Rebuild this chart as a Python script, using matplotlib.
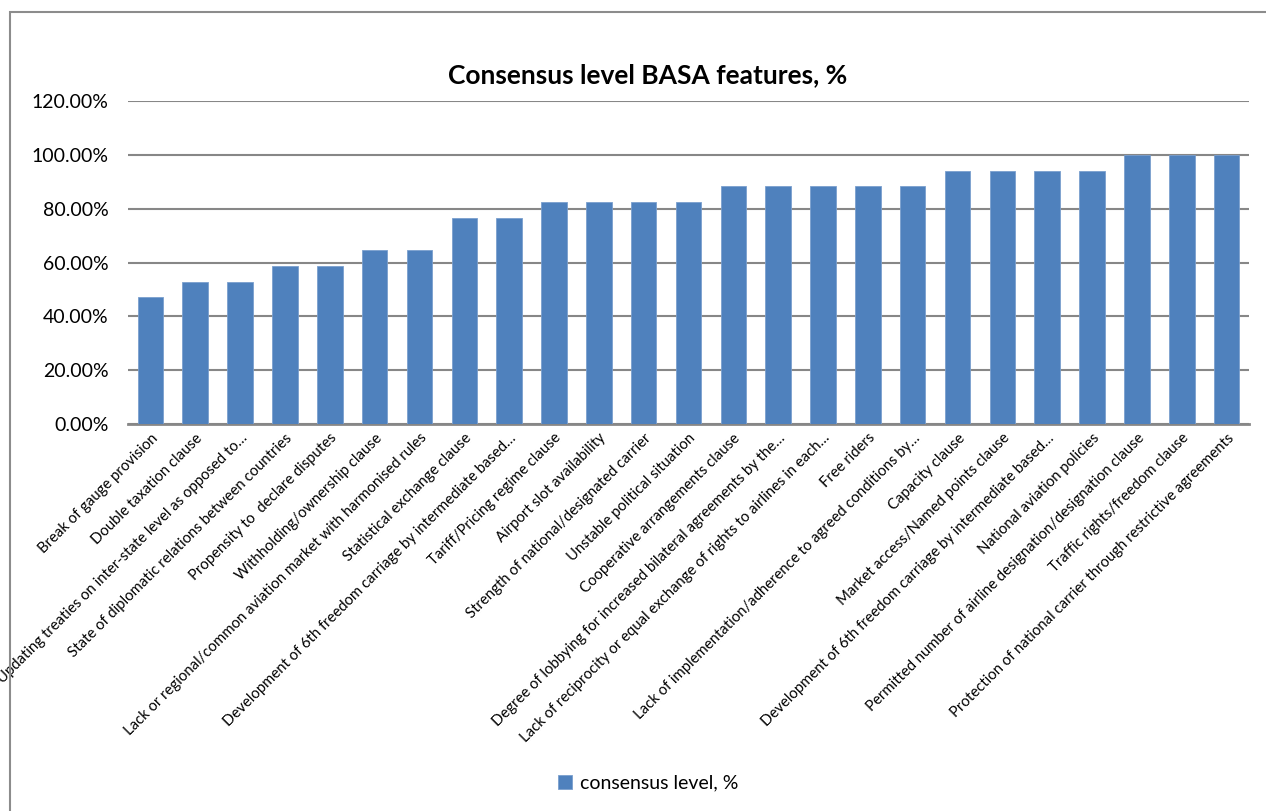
import matplotlib
matplotlib.use("Agg")
import matplotlib.pyplot as plt
from matplotlib.ticker import FuncFormatter, MultipleLocator
from matplotlib.patches import Rectangle

# Features ordered by consensus level (share of respondents)
features = [
    "Break of gauge provision",
    "Double taxation clause",
    "Updating treaties on inter-state level as opposed to\u2026",
    "State of diplomatic relations between countries",
    "Propensity to  declare disputes",
    "Withholding/ownership clause",
    "Lack or regional/common aviation market with harmonised rules",
    "Statistical exchange clause",
    "Development of 6th freedom carriage by intermediate based\u2026",
    "Tariff/Pricing regime clause",
    "Airport slot availability",
    "Strength of national/designated carrier",
    "Unstable political situation",
    "Cooperative arrangements clause",
    "Degree of lobbying for increased bilateral agreements by the\u2026",
    "Lack of reciprocity or equal exchange of rights to airlines in each\u2026",
    "Free riders",
    "Lack of implementation/adherence to agreed conditions by\u2026",
    "Capacity clause",
    "Market access/Named points clause",
    "Development of 6th freedom carriage by intermediate based\u2026",
    "National aviation policies",
    "Permitted number of airline designation/designation clause",
    "Traffic rights/freedom clause",
    "Protection of national carrier through restrictive agreements",
]
consensus = [
    0.4706, 0.5294, 0.5294, 0.5882, 0.5882, 0.6471, 0.6471, 0.7647, 0.7647,
    0.8235, 0.8235, 0.8235, 0.8235, 0.8824, 0.8824, 0.8824, 0.8824, 0.8824,
    0.9412, 0.9412, 0.9412, 0.9412, 1.0, 1.0, 1.0,
]
series_name = "consensus level, %"
chart_title = "Consensus level BASA features, %"

plt.rcParams["font.family"] = ["Lato", "DejaVu Sans"]

fig = plt.figure(figsize=(12.66, 8.11), dpi=100)
ax = fig.add_axes([128 / 1266, 1 - 424 / 811, (1249 - 128) / 1266, 323 / 811])

# chart frame (runs off the right and bottom edges)
fig.patches.append(Rectangle((10 / 1266, -0.05), 1.2, 1 - 12 / 811 + 0.05,
                             transform=fig.transFigure, fill=False,
                             edgecolor="#8c8c8c", linewidth=1.5))

x = range(len(features))
ax.bar(x, consensus, width=0.57, color="#4F81BD", edgecolor="#7a9fce",
       linewidth=0.6, label=series_name, zorder=3)

ax.set_xlim(-0.5, len(features) - 0.5)
ax.set_ylim(0, 1.2)
ax.yaxis.set_major_locator(MultipleLocator(0.2))
ax.yaxis.set_major_formatter(FuncFormatter(lambda v, pos: f"{v * 100:.2f}%"))
ax.grid(axis="y", color="#878787", linewidth=1.5, zorder=0)
for side in ["top", "right", "left"]:
    ax.spines[side].set_visible(False)
ax.spines["bottom"].set_color("#878787")
ax.spines["bottom"].set_linewidth(2)
ax.tick_params(axis="y", length=0, pad=14, labelsize=14)
ax.tick_params(axis="x", length=0, pad=5)

ax.set_xticks(list(x))
ax.set_xticklabels(features, rotation=45, ha="right", va="top",
                   rotation_mode="anchor", fontsize=10.7)

fig.text(648 / 1266, 1 - 75 / 811, chart_title, ha="center", va="center",
         fontsize=19, fontweight="bold")

fig.legend(loc="center", bbox_to_anchor=(648 / 1266, 1 - 783 / 811),
           frameon=False, fontsize=14, handlelength=0.75, handleheight=0.75,
           handletextpad=0.4)

fig.savefig("out.png", dpi=100)
